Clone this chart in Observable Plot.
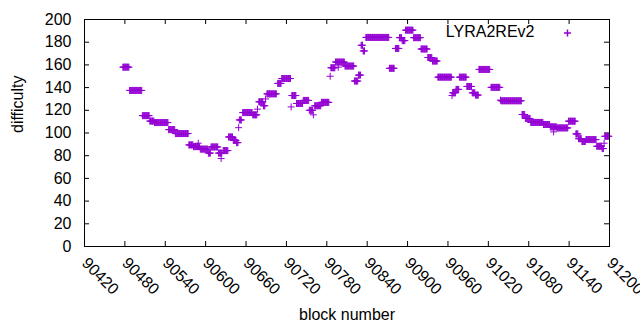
<!DOCTYPE html>
<html><head><meta charset="utf-8">
<script src="https://cdn.jsdelivr.net/npm/d3@7"></script>
<script src="https://cdn.jsdelivr.net/npm/@observablehq/plot@0.6"></script>
<style>body{margin:0;background:#fff} svg{display:block}</style>
</head><body><div id="chart"></div>
<script>
// Runs of constant difficulty: first block, last block, value
const runStart = [90477,90487,90506,90517,90524,90545,90555,90575,90582,90592,90604,90608,90619,90626,90634,90641,90646,90650,90655,90670,90679,90686,90691,90707,90713,90728,90735,90745,90754,90762,90772,90786,90793,90807,90821,90827,90831,90834,90838,90873,90882,90888,90892,90897,90909,90920,90930,90937,90945,90967,90972,90977,90988,90996,91001,91006,91024,91039,91070,91075,91083,91102,91112,91122,91139,91150,91154,91159,91165,91181,91189,91193];
const runEnd   = [90486,90505,90516,90523,90544,90554,90574,90581,90591,90603,90607,90618,90624,90633,90640,90645,90648,90653,90669,90676,90685,90688,90705,90712,90726,90734,90744,90753,90759,90771,90783,90792,90806,90820,90826,90830,90833,90836,90872,90880,90887,90891,90896,90908,90919,90929,90936,90944,90965,90971,90976,90987,90995,91000,91005,91022,91037,91069,91074,91082,91101,91111,91121,91138,91149,91153,91158,91164,91180,91188,91191,91199];
const runValue = [158,137.5,115.3,110.5,109.2,103,99.5,89.5,88,85.8,82.3,87.7,82.3,84.5,96.5,93.5,91.5,111.5,118,116,127.5,124,134.5,143.7,148,133,126,128.7,120,124,127,157.5,162.5,159,145.8,151,177.3,172.3,184.2,157,174.5,184,181.4,190.6,184,174,166.5,163.4,149.2,135.4,138.4,149.2,141,135.4,133.4,156,140.2,128.4,116.3,112.8,109.3,107.5,105.4,104.5,110.4,99.2,95,92.5,94.2,88.3,86.3,97.1];
// Isolated blocks
const singleBlock = [90589,90623,90649,90677,90689,90727,90760,90785,90797,90966,91038,91117,91192];
const singleValue = [91,77.5,104.7,121,130,123,116,150,158,133,129,101,91];
const xTicks = d3.range(90420, 91201, 60);
const yTicks = d3.range(0, 201, 20);
const seriesName = "LYRA2REv2";

const data = [];
runStart.forEach((s, i) => { for (let b = s; b <= runEnd[i]; b++) data.push({block: b, difficulty: runValue[i]}); });
singleBlock.forEach((b, i) => data.push({block: b, difficulty: singleValue[i]}));

const plus = {draw(ctx, size) { const r = Math.sqrt(size / Math.PI); ctx.moveTo(-r, 0); ctx.lineTo(r, 0); ctx.moveTo(0, -r); ctx.lineTo(0, r); }};

const W = 640, H = 330, mL = 84, mR = 31, mT = 19, mB = 84;
const innerH = H - mT - mB, innerW = W - mL - mR;
const font = "'Liberation Sans', Arial, sans-serif";
const color = "#9400d3";

const chart = Plot.plot({
  width: W, height: H, marginLeft: mL, marginRight: mR, marginTop: mT, marginBottom: mB,
  style: {fontFamily: font, fontSize: "16px", background: "#fff", color: "#000"},
  x: {domain: [90420, 91200]},
  y: {domain: [0, 200]},
  marks: [
    Plot.ruleX(xTicks, {x: d => d, insetTop: innerH - 5}),
    Plot.ruleX(xTicks, {x: d => d, insetBottom: innerH - 5}),
    Plot.ruleY(yTicks, {y: d => d, insetRight: innerW - 5}),
    Plot.ruleY(yTicks, {y: d => d, insetLeft: innerW - 5}),
    Plot.axisX({ticks: xTicks, tickSize: 0, tickRotate: 45, tickPadding: 14, tickFormat: d => String(d), label: null, fontSize: 16}),
    Plot.axisY({ticks: yTicks, tickSize: 0, tickPadding: 13, tickFormat: d => String(d), label: null, fontSize: 16}),
    Plot.dot(data, {x: "block", y: "difficulty", symbol: plus, r: 3.5, stroke: color, fill: "none", strokeWidth: 1}),
    Plot.frame({stroke: "#000"}),
    Plot.text([seriesName], {frameAnchor: "top-right", dx: -75, dy: 12.5, textAnchor: "end", lineAnchor: "middle", fontSize: 16}),
    Plot.dot([seriesName], {frameAnchor: "top-right", dx: -42, dy: 13.5, symbol: plus, r: 3.5, stroke: color, fill: "none"}),
    Plot.text(["difficulty"], {frameAnchor: "left", dx: -67, rotate: -90, fontSize: 16}),
    Plot.text(["block number"], {frameAnchor: "bottom", dy: 73, fontSize: 16})
  ]
});
document.getElementById("chart").append(chart);
</script>
</body></html>
